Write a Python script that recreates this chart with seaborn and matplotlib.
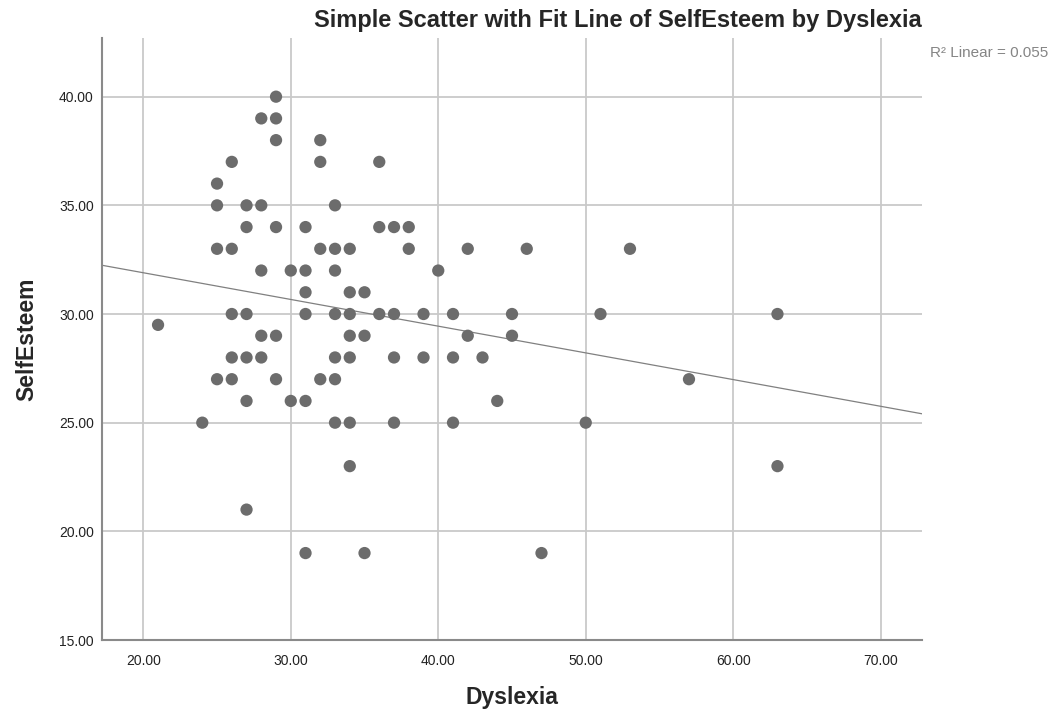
import numpy as np
import pandas as pd
import matplotlib
matplotlib.use("Agg")
import matplotlib.pyplot as plt
import seaborn as sns

dyslexia = [21, 24,
            25, 25, 25, 25,
            26, 26, 26, 26, 26,
            27, 27, 27, 27, 27, 27,
            28, 28, 28, 28, 28,
            29, 29, 29, 29, 29, 29,
            30, 30,
            31, 31, 31, 31, 31, 31,
            32, 32, 32, 32,
            33, 33, 33, 33, 33, 33, 33,
            34, 34, 34, 34, 34, 34, 34,
            35, 35, 35,
            36, 36, 36,
            37, 37, 37, 37,
            38, 38,
            39, 39,
            40,
            41, 41, 41,
            42, 42,
            43,
            44,
            45, 45,
            46,
            47,
            50, 51, 53, 57, 63, 63]
selfesteem = [29.5, 25,
              36, 35, 33, 27,
              37, 33, 30, 28, 27,
              35, 34, 30, 28, 26, 21,
              39, 35, 32, 29, 28,
              40, 39, 38, 34, 29, 27,
              32, 26,
              34, 32, 31, 30, 26, 19,
              38, 37, 33, 27,
              35, 33, 32, 30, 28, 27, 25,
              33, 31, 30, 29, 28, 25, 23,
              31, 29, 19,
              37, 34, 30,
              34, 30, 28, 25,
              34, 33,
              30, 28,
              32,
              30, 28, 25,
              33, 29,
              28,
              26,
              30, 29,
              33,
              19,
              25, 30, 33, 27, 30, 23]

x_ticks = [20, 30, 40, 50, 60, 70]
y_ticks = [15, 20, 25, 30, 35, 40]
r2_label = "R\u00b2 Linear = 0.055"

df = pd.DataFrame({"Dyslexia": dyslexia, "SelfEsteem": selfesteem})

sns.set_style("white")
plt.rcParams["font.family"] = ["Liberation Sans", "DejaVu Sans"]

fig = plt.figure(figsize=(10.58, 7.15), dpi=100)
ax = fig.add_axes([102 / 1058, 1 - 640 / 715, 820 / 1058, 602 / 715])

ax.set_xlim(17.2, 72.8)
ax.set_ylim(15, 42.7)
ax.set_xticks(x_ticks)
ax.set_yticks(y_ticks)
ax.set_xticklabels([f"{v:.2f}" for v in x_ticks])
ax.set_yticklabels([f"{v:.2f}" for v in y_ticks])
ax.grid(True, color="#c9c9c9", linewidth=1.3)
ax.set_axisbelow(True)

sns.regplot(data=df, x="Dyslexia", y="SelfEsteem", ax=ax, ci=None, truncate=False,
            scatter_kws=dict(s=78, color="#6c6c6c", edgecolor="none", alpha=1, zorder=3),
            line_kws=dict(color="#808080", linewidth=0.9, zorder=2))

ax.set_xlim(17.2, 72.8)
ax.set_ylim(15, 42.7)

for side in ["top", "right"]:
    ax.spines[side].set_visible(False)
for side in ["left", "bottom"]:
    ax.spines[side].set_color("#8a8a8a")
    ax.spines[side].set_linewidth(1.5)

ax.tick_params(axis="both", length=0, labelsize=10, colors="#222222", pad=6)
ax.tick_params(axis="x", pad=10)
ax.set_xlabel("Dyslexia", fontsize=16.5, fontweight="bold", labelpad=13)
ax.set_ylabel("SelfEsteem", fontsize=16.5, fontweight="bold", labelpad=15)

fig.text(922 / 1058, 1 - 21 / 715, "Simple Scatter with Fit Line of SelfEsteem by Dyslexia",
         ha="right", va="center", fontsize=17, fontweight="bold")
fig.text(930 / 1058, 1 - 53 / 715, r2_label, ha="left", va="center",
         fontsize=11, color="#858585")

fig.savefig("out.png", dpi=100)
